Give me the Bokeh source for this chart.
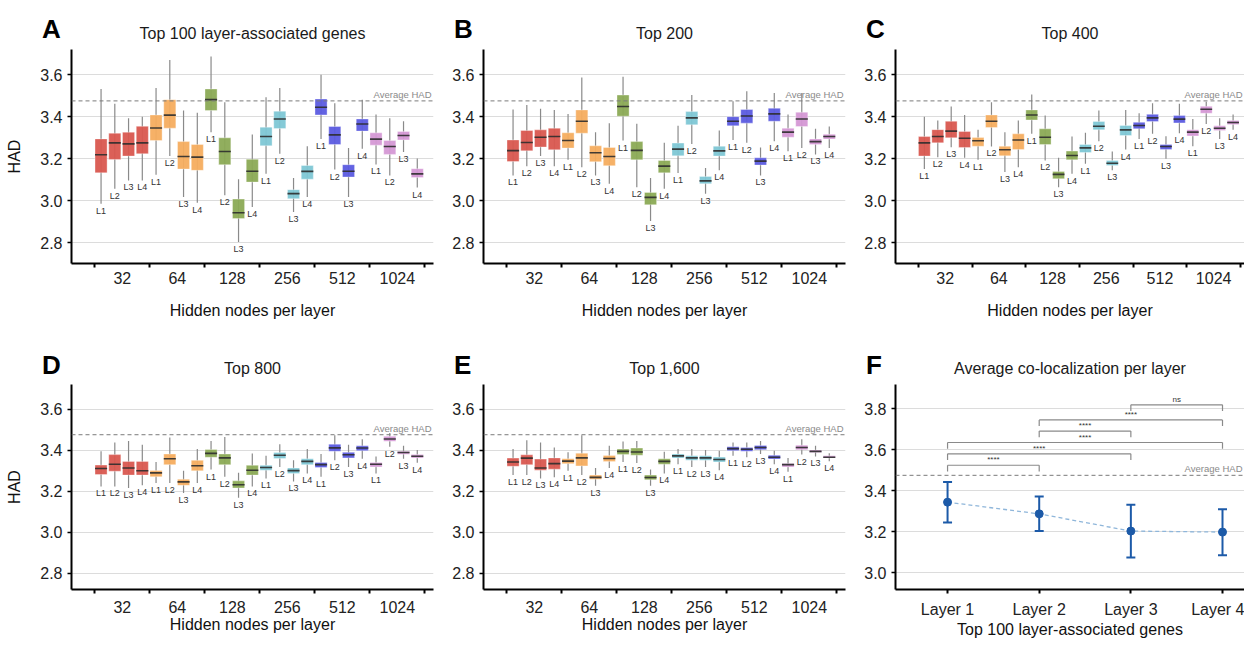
from bokeh.plotting import figure
from bokeh.layouts import row, column
from bokeh.models import (FixedTicker, PrintfTickFormatter, Span, Range1d, Div,
                          ColumnDataSource, Whisker, TeeHead)
from bokeh.embed import file_html
from bokeh.resources import INLINE
from bokeh.core.properties import value

FONT = "Liberation Sans"

hidden_nodes = ["32", "64", "128", "256", "512", "1024"]
layers = ["L1", "L2", "L3", "L4"]
group_colors = ["#D9574F", "#F5AD5F", "#8BAA55", "#7EC7D5", "#5B5BE0", "#D598D5"]
avg_had = 3.475

# ---- Panel A: Top 100 layer-associated genes (L1..L4 for 32,64,128,256,512,1024)
a_hi = [3.532, 3.461, 3.392, 3.400, 3.537, 3.670, 3.429, 3.418, 3.687, 3.468, 3.101, 3.315,
        3.492, 3.537, 3.107, 3.259, 3.600, 3.464, 3.250, 3.481, 3.410, 3.392, 3.378, 3.200]
a_q3 = [3.294, 3.321, 3.326, 3.354, 3.408, 3.481, 3.281, 3.267, 3.532, 3.299, 3.007, 3.197,
        3.350, 3.426, 3.052, 3.167, 3.484, 3.353, 3.171, 3.389, 3.323, 3.286, 3.329, 3.152]
a_med = [3.218, 3.275, 3.270, 3.275, 3.346, 3.407, 3.210, 3.207, 3.481, 3.234, 2.942, 3.140,
         3.305, 3.389, 3.033, 3.139, 3.445, 3.313, 3.140, 3.365, 3.293, 3.258, 3.310, 3.127]
a_q1 = [3.132, 3.196, 3.212, 3.223, 3.286, 3.345, 3.150, 3.144, 3.429, 3.171, 2.914, 3.088,
        3.261, 3.343, 3.009, 3.102, 3.408, 3.267, 3.112, 3.331, 3.264, 3.220, 3.289, 3.110]
a_lo = [2.985, 3.056, 3.096, 3.096, 3.123, 3.212, 3.017, 2.990, 3.326, 3.025, 2.803, 2.969,
        3.128, 3.223, 2.945, 3.017, 3.294, 3.148, 3.017, 3.247, 3.172, 3.120, 3.231, 3.062]

# ---- Panel B: Top 200
b_hi = [3.434, 3.456, 3.437, 3.432, 3.413, 3.587, 3.326, 3.369, 3.590, 3.366, 3.107, 3.275,
        3.356, 3.503, 3.155, 3.334, 3.473, 3.521, 3.253, 3.513, 3.410, 3.513, 3.342, 3.353]
b_q3 = [3.289, 3.334, 3.337, 3.345, 3.323, 3.432, 3.261, 3.253, 3.503, 3.281, 3.039, 3.191,
        3.274, 3.424, 3.115, 3.259, 3.400, 3.434, 3.204, 3.440, 3.345, 3.421, 3.294, 3.316]
b_med = [3.238, 3.277, 3.302, 3.305, 3.286, 3.378, 3.228, 3.210, 3.448, 3.239, 3.015, 3.164,
         3.245, 3.394, 3.094, 3.237, 3.378, 3.403, 3.188, 3.413, 3.326, 3.389, 3.281, 3.305]
b_q1 = [3.186, 3.237, 3.255, 3.242, 3.250, 3.321, 3.185, 3.166, 3.402, 3.194, 2.980, 3.132,
        3.213, 3.361, 3.080, 3.212, 3.356, 3.369, 3.169, 3.378, 3.302, 3.353, 3.267, 3.293]
b_lo = [3.120, 3.164, 3.212, 3.164, 3.194, 3.159, 3.120, 3.080, 3.286, 3.064, 2.903, 3.056,
        3.131, 3.270, 3.033, 3.144, 3.289, 3.275, 3.120, 3.283, 3.235, 3.251, 3.220, 3.251]

# ---- Panel C: Top 400
c_hi = [3.400, 3.381, 3.448, 3.408, 3.338, 3.468, 3.326, 3.381, 3.505, 3.405, 3.204, 3.305,
        3.323, 3.429, 3.234, 3.432, 3.416, 3.464, 3.307, 3.461, 3.389, 3.471, 3.392, 3.410]
c_q3 = [3.305, 3.338, 3.378, 3.329, 3.300, 3.408, 3.259, 3.318, 3.432, 3.342, 3.139, 3.236,
        3.267, 3.377, 3.191, 3.358, 3.373, 3.411, 3.267, 3.405, 3.338, 3.449, 3.356, 3.381]
c_med = [3.275, 3.305, 3.331, 3.297, 3.285, 3.378, 3.242, 3.289, 3.408, 3.302, 3.125, 3.215,
         3.251, 3.354, 3.178, 3.337, 3.358, 3.394, 3.258, 3.388, 3.326, 3.435, 3.345, 3.372]
c_q1 = [3.212, 3.275, 3.299, 3.253, 3.259, 3.348, 3.213, 3.243, 3.384, 3.267, 3.104, 3.194,
        3.229, 3.337, 3.167, 3.310, 3.342, 3.377, 3.243, 3.370, 3.308, 3.416, 3.334, 3.362]
c_lo = [3.151, 3.207, 3.254, 3.204, 3.194, 3.258, 3.136, 3.159, 3.318, 3.191, 3.064, 3.128,
        3.175, 3.283, 3.144, 3.243, 3.294, 3.318, 3.199, 3.321, 3.259, 3.365, 3.294, 3.337]

# ---- Panel D: Top 800
d_hi = [3.394, 3.437, 3.445, 3.426, 3.342, 3.461, 3.299, 3.405, 3.445, 3.464, 3.289, 3.384,
        3.373, 3.429, 3.350, 3.405, 3.381, 3.473, 3.426, 3.453, 3.369, 3.484, 3.421, 3.401]
d_q3 = [3.327, 3.378, 3.345, 3.345, 3.300, 3.381, 3.258, 3.350, 3.403, 3.381, 3.250, 3.326,
        3.326, 3.388, 3.313, 3.358, 3.340, 3.429, 3.389, 3.421, 3.340, 3.467, 3.394, 3.378]
d_med = [3.310, 3.331, 3.313, 3.299, 3.289, 3.358, 3.245, 3.324, 3.384, 3.362, 3.231, 3.302,
         3.315, 3.375, 3.300, 3.345, 3.329, 3.411, 3.377, 3.410, 3.331, 3.454, 3.388, 3.370]
d_q1 = [3.281, 3.297, 3.278, 3.278, 3.270, 3.329, 3.228, 3.299, 3.365, 3.329, 3.215, 3.278,
        3.302, 3.359, 3.286, 3.329, 3.315, 3.394, 3.362, 3.397, 3.318, 3.443, 3.380, 3.362]
d_lo = [3.223, 3.223, 3.215, 3.228, 3.239, 3.239, 3.191, 3.239, 3.305, 3.270, 3.167, 3.223,
        3.262, 3.318, 3.247, 3.286, 3.270, 3.350, 3.318, 3.358, 3.286, 3.416, 3.358, 3.338]

# ---- Panel E: Top 1,600
e_hi = [3.405, 3.448, 3.437, 3.413, 3.389, 3.473, 3.313, 3.421, 3.442, 3.445, 3.305, 3.392,
        3.405, 3.405, 3.400, 3.397, 3.437, 3.437, 3.445, 3.397, 3.362, 3.453, 3.421, 3.385]
e_q3 = [3.361, 3.377, 3.356, 3.362, 3.358, 3.385, 3.278, 3.374, 3.405, 3.410, 3.278, 3.358,
        3.381, 3.372, 3.372, 3.366, 3.416, 3.413, 3.423, 3.375, 3.335, 3.424, 3.400, 3.372]
e_med = [3.342, 3.361, 3.313, 3.334, 3.346, 3.362, 3.267, 3.359, 3.394, 3.391, 3.266, 3.345,
         3.372, 3.362, 3.362, 3.354, 3.407, 3.404, 3.413, 3.365, 3.329, 3.413, 3.394, 3.365]
e_q1 = [3.321, 3.329, 3.302, 3.307, 3.334, 3.323, 3.258, 3.345, 3.378, 3.375, 3.255, 3.331,
        3.361, 3.350, 3.350, 3.342, 3.397, 3.394, 3.402, 3.356, 3.318, 3.402, 3.388, 3.361]
e_lo = [3.278, 3.278, 3.262, 3.267, 3.299, 3.278, 3.226, 3.313, 3.342, 3.337, 3.226, 3.286,
        3.331, 3.318, 3.318, 3.302, 3.373, 3.365, 3.381, 3.331, 3.294, 3.378, 3.369, 3.346]

# ---- Panel F: average co-localization per layer
f_layers = ["Layer 1", "Layer 2", "Layer 3", "Layer 4"]
f_mean = [3.344, 3.287, 3.203, 3.198]
f_upper = [3.442, 3.372, 3.331, 3.310]
f_lower = [3.245, 3.203, 3.074, 3.085]
cmp_from = [1, 1, 1, 2, 2, 3]
cmp_to = [2, 3, 4, 3, 4, 4]
cmp_y = [3.524, 3.580, 3.635, 3.691, 3.745, 3.819]
cmp_label = ["****", "****", "****", "****", "****", "ns"]

panel_letters = ["A", "B", "C", "D", "E", "F"]

ROW1 = dict(height=328, top=49, bottom=65, tick_standoff=4, xlabel_standoff=15)
ROW2 = dict(height=312, top=56, bottom=46, tick_standoff=7, xlabel_standoff=0)


def style_common(p, title, ylabel, xlabel, tick_standoff, xlabel_standoff):
    p.outline_line_color = None
    p.background_fill_color = "white"
    p.xgrid.grid_line_color = None
    p.ygrid.grid_line_color = "#dcdcdc"
    p.ygrid.grid_line_width = 1
    p.title.text = title
    p.title.align = "center"
    p.title.text_font = FONT
    p.title.text_font_size = "16px"
    p.title.text_font_style = "normal"
    p.title.text_color = "#1a1a1a"
    p.title.standoff = 16
    for ax in (p.xaxis[0], p.yaxis[0]):
        ax.axis_line_width = 2
        ax.axis_line_color = "black"
        ax.major_label_text_font = FONT
        ax.major_label_text_font_size = "16px"
        ax.major_label_text_color = "#222222"
        ax.axis_label_text_font = FONT
        ax.axis_label_text_font_size = "16px"
        ax.axis_label_text_font_style = "normal"
        ax.axis_label_text_color = "#111111"
    ya = p.yaxis[0]
    ya.major_tick_out = 4
    ya.major_tick_in = 0
    ya.major_tick_line_width = 1.5
    ya.minor_tick_line_color = None
    ya.major_label_standoff = 5
    ya.formatter = PrintfTickFormatter(format="%.1f")
    if ylabel:
        ya.axis_label = ylabel
        ya.axis_label_standoff = 14
    xa = p.xaxis[0]
    xa.axis_label = xlabel
    xa.axis_label_standoff = xlabel_standoff
    xa.major_label_standoff = tick_standoff
    p.add_layout(Span(location=avg_had, dimension="width", line_color="#7a7a7a",
                      line_dash="4 3", line_width=1))


def box_panel(title, hi, q3, med, q1, lo, width, left, right, rowcfg, ylabel, x1, y0):
    x0 = -1.7
    y1 = 3.72
    p = figure(width=width, height=rowcfg["height"], output_backend="svg",
               toolbar_location=None,
               x_range=Range1d(x0, x1), y_range=Range1d(y0, y1),
               min_border_left=left, min_border_right=right,
               min_border_top=rowcfg["top"], min_border_bottom=rowcfg["bottom"])
    xs = [g * 4 + 0.45 + l for g in range(len(hidden_nodes)) for l in range(len(layers))]
    cols = [group_colors[g] for g in range(len(hidden_nodes)) for _ in layers]
    labs = [layers[l] for _ in hidden_nodes for l in range(len(layers))]
    src = ColumnDataSource(dict(x=xs, hi=hi, q3=q3, med=med, q1=q1, lo=lo, color=cols, lab=labs,
                                xl=[x - 0.44 for x in xs], xr=[x + 0.44 for x in xs]))
    p.segment(x0="x", y0="lo", x1="x", y1="hi", source=src, line_color="#8a8a8a", line_width=1.2)
    p.vbar(x="x", width=0.88, top="q3", bottom="q1", source=src, fill_color="color",
           fill_alpha=0.95, line_color="white", line_alpha=0.35, line_width=1)
    p.segment(x0="xl", y0="med", x1="xr", y1="med", source=src, line_color="#2e2e2e",
              line_alpha=0.9, line_width=1.6)
    p.text(x="x", y="lo", text="lab", source=src, text_align="center", text_baseline="top",
           y_offset=2, text_font=value(FONT), text_font_size="9px", text_color="#333333")
    p.text(x=[x1], y=[avg_had], text=["Average HAD"], text_align="right", text_baseline="bottom",
           x_offset=-2, y_offset=-1, text_font=value(FONT), text_font_size="9.5px",
           text_color="#8a8a8a")
    style_common(p, title, ylabel, "Hidden nodes per layer",
                 rowcfg["tick_standoff"], rowcfg["xlabel_standoff"])
    xa = p.xaxis[0]
    centers = [g * 4 + 2 for g in range(len(hidden_nodes))]
    bounds = [g * 4 for g in range(len(hidden_nodes) + 1)]
    xa.ticker = FixedTicker(ticks=centers, minor_ticks=bounds)
    xa.major_label_overrides = {c: n for c, n in zip(centers, hidden_nodes)}
    xa.major_tick_line_color = None
    xa.major_tick_out = 4
    xa.major_tick_in = 0
    xa.minor_tick_line_color = "black"
    xa.minor_tick_line_width = 2
    xa.minor_tick_out = 4
    xa.minor_tick_in = 0
    p.yaxis[0].ticker = FixedTicker(ticks=[2.8, 3.0, 3.2, 3.4, 3.6])
    return p


pA = box_panel("Top 100 layer-associated genes", a_hi, a_q3, a_med, a_q1, a_lo,
               438, 71, 5, ROW1, "HAD", 24.63, 2.7)
pB = box_panel("Top 200", b_hi, b_q3, b_med, b_q1, b_lo, 412, 45, 5, ROW1, None, 24.63, 2.7)
pC = box_panel("Top 400", c_hi, c_q3, c_med, c_q1, c_lo, 394, 45, 0, ROW1, None, 24.3, 2.7)
pD = box_panel("Top 800", d_hi, d_q3, d_med, d_q1, d_lo, 438, 71, 5, ROW2, "HAD", 24.63, 2.72)
pE = box_panel("Top 1,600", e_hi, e_q3, e_med, e_q1, e_lo, 412, 45, 5, ROW2, None, 24.63, 2.72)

# ---- Panel F
fx0, fx1 = 0.432, 4.24
fy0, fy1 = 2.918, 3.918
pF = figure(width=394, height=ROW2["height"], output_backend="svg", toolbar_location=None,
            x_range=Range1d(fx0, fx1), y_range=Range1d(fy0, fy1),
            min_border_left=45, min_border_right=0,
            min_border_top=ROW2["top"], min_border_bottom=ROW2["bottom"])
fx = [i + 1 for i in range(len(f_layers))]
fsrc = ColumnDataSource(dict(x=fx, mean=f_mean, upper=f_upper, lower=f_lower))
pF.line(x="x", y="mean", source=fsrc, line_color="#8fb6da", line_dash="4 3", line_width=1.3)
pF.add_layout(Whisker(base="x", upper="upper", lower="lower", source=fsrc, line_color="#1c5aa8",
                      line_width=2,
                      upper_head=TeeHead(size=9, line_color="#1c5aa8", line_width=2),
                      lower_head=TeeHead(size=9, line_color="#1c5aa8", line_width=2)))
pF.scatter(x="x", y="mean", source=fsrc, size=8, fill_color="#1c5aa8", line_color="#1c5aa8")
bsrc = ColumnDataSource(dict(x0=cmp_from, x1=cmp_to, y=cmp_y,
                             yt=[y - 0.03 for y in cmp_y],
                             xm=[(a + b) / 2 for a, b in zip(cmp_from, cmp_to)], lab=cmp_label))
pF.segment(x0="x0", y0="y", x1="x1", y1="y", source=bsrc, line_color="#8a8a8a", line_width=1.2)
pF.segment(x0="x0", y0="y", x1="x0", y1="yt", source=bsrc, line_color="#8a8a8a", line_width=1.2)
pF.segment(x0="x1", y0="y", x1="x1", y1="yt", source=bsrc, line_color="#8a8a8a", line_width=1.2)
pF.text(x="xm", y="y", text="lab", source=bsrc, text_align="center", text_baseline="bottom",
        y_offset=-1, text_font=value(FONT), text_font_size="8px", text_color="#333333")
pF.text(x=[fx1], y=[avg_had], text=["Average HAD"], text_align="right", text_baseline="bottom",
        x_offset=-2, y_offset=-1, text_font=value(FONT), text_font_size="9.5px", text_color="#8a8a8a")
style_common(pF, "Average co-localization per layer", None, "Top 100 layer-associated genes",
             ROW2["tick_standoff"], ROW2["xlabel_standoff"])
pF.yaxis[0].ticker = FixedTicker(ticks=[3.0, 3.2, 3.4, 3.6, 3.8])
xaF = pF.xaxis[0]
xaF.ticker = FixedTicker(ticks=fx)
xaF.major_label_overrides = {i: n for i, n in zip(fx, f_layers)}
xaF.major_tick_out = 4
xaF.major_tick_in = 0
xaF.major_tick_line_width = 2
xaF.minor_tick_line_color = None

# ---- panel letters, drawn as an out-of-flow overlay above the figures
letter_left = [37, 449, 861, 37, 449, 861]
letter_top = [9, 9, 9, 345, 345, 345]
spans = "".join(
    f"<span style=\"position:absolute;left:{x}px;top:{y}px;font-family:'{FONT}';"
    f"font-size:26px;font-weight:bold;color:black;line-height:30px\">{t}</span>"
    for t, x, y in zip(panel_letters, letter_left, letter_top))
overlay = Div(text=spans, width=1244, height=0,
              styles={"position": "absolute", "left": "0px", "top": "0px",
                      "z-index": "5", "overflow": "visible"})

layout = column(row(pA, pB, pC), row(pD, pE, pF), overlay)
open("out.html", "w").write(file_html(layout, INLINE))
